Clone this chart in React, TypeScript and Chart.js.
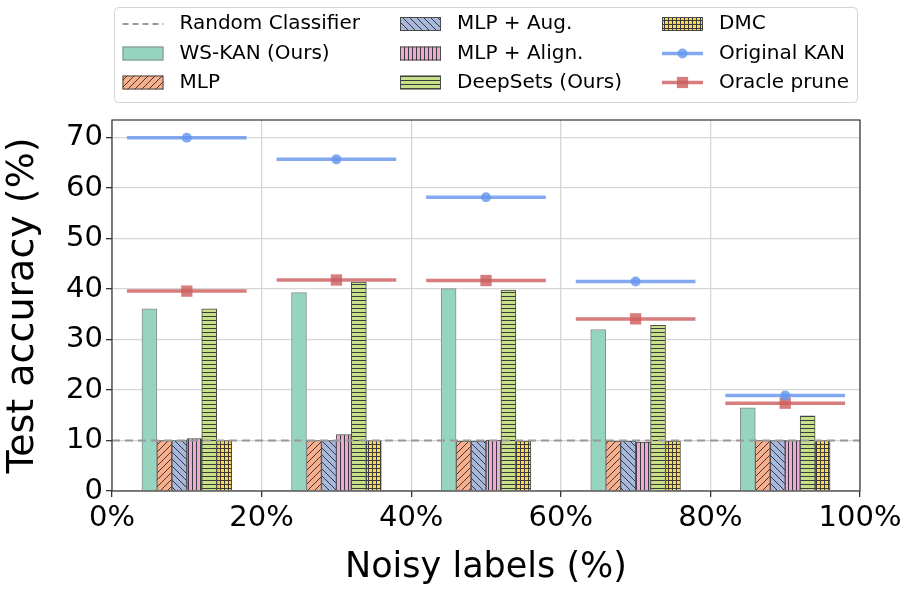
import React, { useEffect, useRef } from 'react';
import { Chart, registerables } from 'chart.js';

Chart.register(...registerables);

// ---- data ----
const noiseLevels = [10, 30, 50, 70, 90];
const xTicks = [0, 20, 40, 60, 80, 100];
const yTicks = [0, 10, 20, 30, 40, 50, 60, 70];
const wsKan = [36.1, 39.3, 40.1, 32.0, 16.5];
const mlp = [10.0, 10.0, 9.9, 9.9, 10.0];
const mlpAug = [10.0, 10.0, 9.9, 9.9, 10.0];
const mlpAlign = [10.4, 11.2, 10.1, 9.7, 10.0];
const deepSets = [36.1, 41.4, 39.8, 32.8, 14.9];
const dmc = [10.0, 10.0, 9.9, 9.9, 10.0];
const originalKan = [70.0, 65.7, 58.2, 41.5, 18.9];
const oraclePrune = [39.6, 41.8, 41.7, 34.1, 17.4];
const randomClassifier = 10;

const FONT = '"DejaVu Sans", "Liberation Sans", sans-serif';

function makePattern(bg: string, kind: string): CanvasPattern | string {
  if (kind === 'none') return bg;
  const diag = kind === '/' || kind === '\\';
  const size = diag ? 7 : 4;
  const c = document.createElement('canvas');
  c.width = size;
  c.height = size;
  const g = c.getContext('2d')!;
  g.fillStyle = bg;
  g.fillRect(0, 0, size, size);
  g.strokeStyle = '#3a3a3a';
  g.lineWidth = 1;
  g.beginPath();
  if (kind === '/') {
    g.moveTo(-1, size + 1); g.lineTo(size + 1, -1);
    g.moveTo(-1, 1); g.lineTo(1, -1);
    g.moveTo(size - 1, size + 1); g.lineTo(size + 1, size - 1);
  } else if (kind === '\\') {
    g.moveTo(-1, -1); g.lineTo(size + 1, size + 1);
    g.moveTo(size - 1, -1); g.lineTo(size + 1, 1);
    g.moveTo(-1, size - 1); g.lineTo(1, size + 1);
  } else if (kind === '|') {
    g.moveTo(0.5, 0); g.lineTo(0.5, size);
  } else if (kind === '-') {
    g.moveTo(0, 0.5); g.lineTo(size, 0.5);
  } else if (kind === '+') {
    g.moveTo(0.5, 0); g.lineTo(0.5, size);
    g.moveTo(0, 0.5); g.lineTo(size, 0.5);
  }
  g.stroke();
  const p = g.createPattern(c, 'repeat');
  return p || bg;
}

export default function App() {
  const ref = useRef<HTMLCanvasElement>(null);

  useEffect(() => {
    const canvas = ref.current!;
    const barOffsets = [-5, -3, -1, 1, 3, 5];
    const barSeries = [
      { label: 'WS-KAN (Ours)', values: wsKan, color: '#95d5c0', hatch: 'none', border: '#8c8c8c' },
      { label: 'MLP', values: mlp, color: '#f9ae8c', hatch: '/', border: '#4a4a4a' },
      { label: 'MLP + Aug.', values: mlpAug, color: '#a8b8dc', hatch: '\\', border: '#4a4a4a' },
      { label: 'MLP + Align.', values: mlpAlign, color: '#eeaad6', hatch: '|', border: '#4a4a4a' },
      { label: 'DeepSets (Ours)', values: deepSets, color: '#c8e08a', hatch: '-', border: '#4a4a4a' },
      { label: 'DMC', values: dmc, color: '#fad85a', hatch: '+', border: '#4a4a4a' },
    ].map((s) => ({ ...s, fill: makePattern(s.color, s.hatch) }));

    const segHalf = 8;
    const segmentData = (vals: number[]) => {
      const pts: any[] = [];
      noiseLevels.forEach((c, i) => {
        if (i > 0) pts.push({ x: c - 10, y: null });
        pts.push({ x: c - segHalf, y: vals[i] }, { x: c, y: vals[i], m: true }, { x: c + segHalf, y: vals[i] });
      });
      return pts;
    };

    const blue = 'rgba(100,149,237,0.8)';
    const red = 'rgba(205,92,92,0.8)';

    const datasets: any[] = [
      {
        type: 'line',
        label: 'Random Classifier',
        data: [{ x: xTicks[0], y: randomClassifier }, { x: xTicks[xTicks.length - 1], y: randomClassifier }],
        borderColor: '#999999',
        borderWidth: 2.2,
        borderDash: [8, 5],
        pointRadius: 0,
        order: 0,
      },
      ...barSeries.map((s, k) => ({
        type: 'bar',
        label: s.label,
        data: noiseLevels.map((c, i) => ({ x: c + barOffsets[k], y: s.values[i] })),
        backgroundColor: s.fill,
        borderColor: s.border,
        borderWidth: 1,
        grouped: false,
        categoryPercentage: 1,
        barPercentage: 1,
        order: 2,
      })),
      {
        type: 'line',
        label: 'Original KAN',
        data: segmentData(originalKan),
        borderColor: blue,
        backgroundColor: blue,
        borderWidth: 3.5,
        spanGaps: false,
        pointStyle: 'circle',
        pointRadius: (c: any) => (c.raw && c.raw.m ? 5 : 0),
        pointBorderWidth: 0,
        order: 1,
      },
      {
        type: 'line',
        label: 'Oracle prune',
        data: segmentData(oraclePrune),
        borderColor: red,
        backgroundColor: red,
        borderWidth: 3.5,
        spanGaps: false,
        pointStyle: 'rect',
        pointRadius: (c: any) => (c.raw && c.raw.m ? 8 : 0),
        pointBorderWidth: 0,
        order: 1,
      },
    ];

    const legendItems = [
      { label: 'Random Classifier', kind: 'line', color: '#999999', dash: [6, 4], marker: null },
      { label: barSeries[0].label, kind: 'bar', fill: barSeries[0].fill, border: barSeries[0].border },
      { label: barSeries[1].label, kind: 'bar', fill: barSeries[1].fill, border: barSeries[1].border },
      { label: barSeries[2].label, kind: 'bar', fill: barSeries[2].fill, border: barSeries[2].border },
      { label: barSeries[3].label, kind: 'bar', fill: barSeries[3].fill, border: barSeries[3].border },
      { label: barSeries[4].label, kind: 'bar', fill: barSeries[4].fill, border: barSeries[4].border },
      { label: barSeries[5].label, kind: 'bar', fill: barSeries[5].fill, border: barSeries[5].border },
      { label: 'Original KAN', kind: 'line', color: blue, dash: [], marker: 'circle' },
      { label: 'Oracle prune', kind: 'line', color: red, dash: [], marker: 'rect' },
    ];

    const legendPlugin = {
      id: 'customLegend',
      afterDraw(chart: any) {
        const ctx = chart.ctx as CanvasRenderingContext2D;
        ctx.save();
        const bx = 114.5, by = 7.5, bw = 743, bh = 95, r = 4;
        ctx.beginPath();
        ctx.moveTo(bx + r, by);
        ctx.lineTo(bx + bw - r, by);
        ctx.arcTo(bx + bw, by, bx + bw, by + r, r);
        ctx.lineTo(bx + bw, by + bh - r);
        ctx.arcTo(bx + bw, by + bh, bx + bw - r, by + bh, r);
        ctx.lineTo(bx + r, by + bh);
        ctx.arcTo(bx, by + bh, bx, by + bh - r, r);
        ctx.lineTo(bx, by + r);
        ctx.arcTo(bx, by, bx + r, by, r);
        ctx.closePath();
        ctx.fillStyle = 'rgba(255,255,255,0.8)';
        ctx.fill();
        ctx.strokeStyle = '#d4d4d4';
        ctx.lineWidth = 1;
        ctx.stroke();

        const colX = [122.5, 400, 662];
        const rowY = [24, 53.5, 82.5];
        const hw = 41;
        ctx.font = `20px ${FONT}`;
        ctx.textBaseline = 'middle';
        ctx.textAlign = 'left';
        legendItems.forEach((it: any, i) => {
          const col = Math.floor(i / 3);
          const row = i % 3;
          const x = colX[col];
          const y = rowY[row];
          if (it.kind === 'bar') {
            ctx.fillStyle = it.fill;
            ctx.fillRect(x, y - 7, hw, 14);
            ctx.strokeStyle = it.border;
            ctx.lineWidth = 1;
            ctx.strokeRect(x + 0.5, y - 6.5, hw - 1, 13);
          } else {
            ctx.strokeStyle = it.color;
            ctx.lineWidth = it.marker ? 3.5 : 2.2;
            ctx.setLineDash(it.dash);
            ctx.beginPath();
            ctx.moveTo(x, y);
            ctx.lineTo(x + hw, y);
            ctx.stroke();
            ctx.setLineDash([]);
            ctx.fillStyle = it.color;
            if (it.marker === 'circle') {
              ctx.beginPath();
              ctx.arc(x + hw / 2, y, 5, 0, Math.PI * 2);
              ctx.fill();
            } else if (it.marker === 'rect') {
              ctx.fillRect(x + hw / 2 - 5.6, y - 5.6, 11.2, 11.2);
            }
          }
          ctx.fillStyle = '#000';
          ctx.fillText(it.label, x + 57, y);
        });
        ctx.restore();
      },
    };

    const framePlugin = {
      id: 'frame',
      afterDatasetsDraw(chart: any) {
        const { ctx, chartArea } = chart;
        ctx.save();
        ctx.strokeStyle = '#333';
        ctx.lineWidth = 1.2;
        ctx.strokeRect(chartArea.left, chartArea.top, chartArea.right - chartArea.left, chartArea.bottom - chartArea.top);
        ctx.restore();
      },
    };

    const chart = new Chart(canvas, {
      type: 'bar',
      data: { datasets },
      options: {
        responsive: false,
        animation: false,
        events: [],
        layout: { padding: { top: 120, right: 53, left: 0, bottom: 0 } },
        plugins: { legend: { display: false }, tooltip: { enabled: false } },
        scales: {
          x: {
            type: 'linear',
            min: xTicks[0],
            max: xTicks[xTicks.length - 1],
            offset: false,
            grid: { offset: false, color: '#d6d6d6', lineWidth: 1.3, tickLength: 6, tickColor: '#333', drawTicks: true },
            border: { display: false },
            afterBuildTicks: (s: any) => { s.ticks = xTicks.map((v) => ({ value: v })); },
            afterFit: (s: any) => { s.height = 104; },
            ticks: {
              autoSkip: false,
              maxRotation: 0,
              padding: 4,
              color: '#000',
              font: { family: FONT, size: 29 },
              callback: (v: any) => `${v}%`,
            },
            title: {
              display: true,
              text: 'Noisy labels (%)',
              color: '#000',
              font: { family: FONT, size: 35 },
              padding: { top: 0, bottom: 6 },
            },
          },
          y: {
            type: 'linear',
            min: 0,
            max: 73.5,
            grid: { color: '#d6d6d6', lineWidth: 1.3, tickLength: 6, tickColor: '#333', drawTicks: true },
            border: { display: false },
            afterBuildTicks: (s: any) => { s.ticks = yTicks.map((v) => ({ value: v })); },
            afterFit: (s: any) => { s.width = 112; },
            ticks: {
              autoSkip: false,
              padding: 3,
              color: '#000',
              font: { family: FONT, size: 29 },
            },
            title: {
              display: true,
              text: 'Test accuracy (%)',
              color: '#000',
              font: { family: FONT, size: 38 },
              padding: { top: 0, bottom: 0 },
            },
          },
        },
      } as any,
      plugins: [legendPlugin, framePlugin],
    });

    return () => chart.destroy();
  }, []);

  return (
    <div style={{ position: 'absolute', left: 0, top: 0, width: 913, height: 595, background: '#fff' }}>
      <canvas ref={ref} width={913} height={595} style={{ width: 913, height: 595, display: 'block' }} />
    </div>
  );
}
